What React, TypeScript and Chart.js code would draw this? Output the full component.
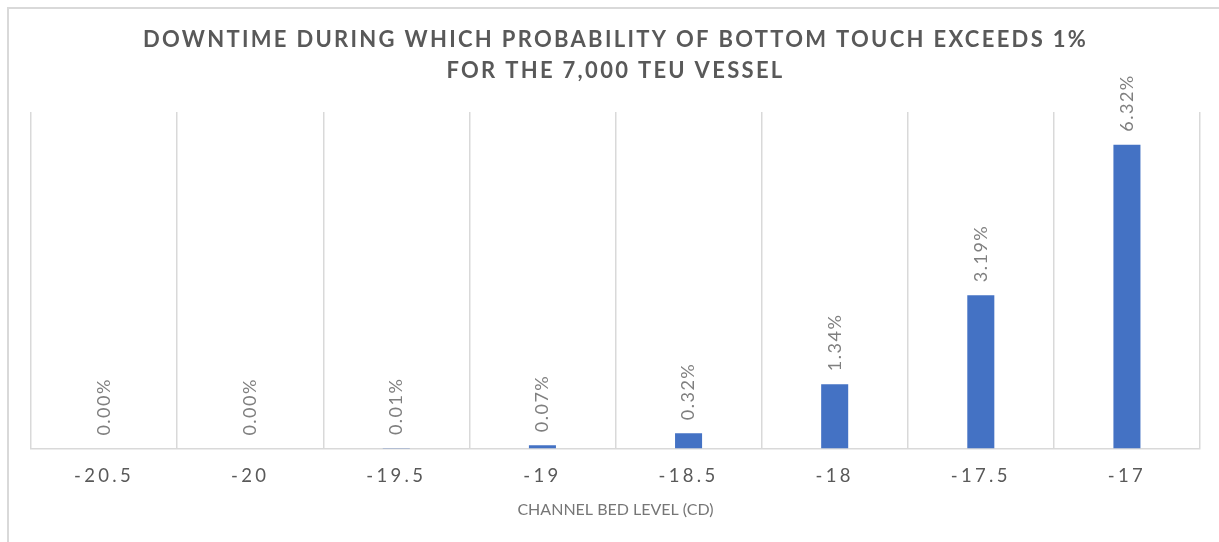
import React, { useEffect, useRef } from "react";
import { Chart, registerables } from "chart.js";

Chart.register(...registerables);

const categories = ["-20.5", "-20", "-19.5", "-19", "-18.5", "-18", "-17.5", "-17"];
const downtimePct = [0.0, 0.0, 0.01, 0.07, 0.32, 1.34, 3.19, 6.32];
const titleLines = [
  "DOWNTIME DURING WHICH PROBABILITY OF BOTTOM TOUCH EXCEEDS 1%",
  "FOR THE 7,000 TEU VESSEL",
];
const xAxisTitle = "CHANNEL BED LEVEL (CD)";
const yMax = 7;

const FONT = "Lato, 'Open Sans', sans-serif";

const spacingPlugin = {
  id: "spacingPlugin",
  beforeDraw(chart: any) {
    const ctx = chart.ctx;
    ctx.letterSpacing = "0px";
    const tb = chart.titleBlock;
    if (tb && !tb.__patched) {
      const orig = tb.draw.bind(tb);
      tb.draw = (...args: any[]) => {
        chart.ctx.save();
        chart.ctx.letterSpacing = "2.3px";
        orig(...args);
        chart.ctx.restore();
      };
      tb.__patched = true;
    }
    const xs = chart.scales.x;
    if (xs && !xs.__patched) {
      const origL = xs.drawLabels.bind(xs);
      xs.drawLabels = (...args: any[]) => {
        chart.ctx.save();
        chart.ctx.letterSpacing = "3.3px";
        origL(...args);
        chart.ctx.restore();
      };
      xs.__patched = true;
    }
  },
};

const dataLabelPlugin = {
  id: "dataLabelPlugin",
  afterDatasetsDraw(chart: any) {
    const ctx = chart.ctx;
    const meta = chart.getDatasetMeta(0);
    meta.data.forEach((bar: any, i: number) => {
      ctx.save();
      ctx.translate(bar.x, bar.y - 13);
      ctx.rotate(-Math.PI / 2);
      ctx.font = `18px ${FONT}`;
      ctx.fillStyle = "#7f7f7f";
      ctx.letterSpacing = "1.5px";
      ctx.textAlign = "left";
      ctx.textBaseline = "middle";
      ctx.fillText(downtimePct[i].toFixed(2) + "%", 0, 0);
      ctx.restore();
    });
  },
};

export default function App() {
  const canvasRef = useRef<HTMLCanvasElement | null>(null);

  useEffect(() => {
    if (!canvasRef.current) return;
    const chart = new Chart(canvasRef.current, {
      type: "bar",
      data: {
        labels: categories,
        datasets: [
          {
            data: downtimePct,
            backgroundColor: "#4472C4",
            borderWidth: 0,
            barPercentage: 0.185,
            categoryPercentage: 1,
          },
        ],
      },
      options: {
        animation: false,
        responsive: false,
        maintainAspectRatio: false,
        layout: { padding: { left: 22, right: 19, top: 0, bottom: 19 } },
        plugins: {
          legend: { display: false },
          tooltip: { enabled: false },
          title: {
            display: true,
            text: titleLines,
            color: "#595959",
            font: { family: FONT, size: 22, weight: "bold", lineHeight: 1.41 },
            padding: { top: 15.5, bottom: 25.5 },
          },
        },
        scales: {
          x: {
            grid: { display: true, drawTicks: false, color: "#d9d9d9", lineWidth: 1.5, offset: true },
            border: { display: true, color: "#d9d9d9", width: 1.5 },
            ticks: {
              color: "#595959",
              font: { family: FONT, size: 18.5 },
              padding: 16,
              maxRotation: 0,
              autoSkip: false,
            },
            title: {
              display: true,
              text: xAxisTitle,
              color: "#767676",
              font: { family: FONT, size: 16 },
              padding: { top: -3, bottom: 4 },
            },
          },
          y: { display: false, min: 0, max: yMax },
        },
      },
      plugins: [spacingPlugin, dataLabelPlugin],
    });
    return () => chart.destroy();
  }, []);

  return (
    <div
      style={{
        position: "fixed",
        left: 7,
        top: 7,
        width: 1212,
        height: 535,
        borderTop: "2px solid #d9d9d9",
        borderLeft: "2px solid #d9d9d9",
        boxSizing: "border-box",
        background: "#ffffff",
      }}
    >
      <canvas ref={canvasRef} width={1210} height={533} style={{ display: "block" }} />
    </div>
  );
}
